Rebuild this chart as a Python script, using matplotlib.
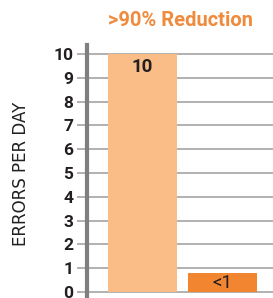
import matplotlib
matplotlib.use("Agg")
import matplotlib.pyplot as plt

categories = ["Before", "After"]
values = [10, 0.82]
bar_labels = ["10", "<1"]
yticks = list(range(0, 11))
title = ">90% Reduction"
ylabel = "ERRORS PER DAY"

plt.rcParams['font.family'] = ['Roboto', 'DejaVu Sans']

fig = plt.figure(figsize=(2.73, 2.98), dpi=100)
ax = fig.add_axes([87/273, 0, 186/273, 253/298])
x = [0, 1]
ax.bar(x, values, width=0.8625, color=["#FBBD87", "#F28530"], zorder=3)
ax.set_xlim(-0.694, 1.631)
ax.set_ylim(-0.25, 10.38)
ax.set_yticks(yticks)
ax.set_yticklabels([str(t) for t in yticks], fontsize=12.5, fontweight='bold', color='#231f20')
for lab in ax.get_yticklabels():
    lab.set_va('center_baseline')
ax.set_xticks([])
ax.grid(axis='y', color='#ABABAB', linewidth=1.3, zorder=1)
ax.tick_params(axis='y', length=7, width=1.3, color='#ABABAB', pad=3)
for s in ['top', 'right', 'bottom']:
    ax.spines[s].set_visible(False)
ax.spines['left'].set_color('#7F7F82')
ax.spines['left'].set_linewidth(3)
ax.spines['left'].set_zorder(4)

ax.text(x[0], values[0] - 0.15, bar_labels[0], ha='center', va='top', fontsize=13.5, fontweight='bold', color='#231f20', zorder=5)
ax.text(x[1], values[1] / 2 - 0.05, bar_labels[1], ha='center', va='center', fontsize=13.5, color='#231f20', zorder=5)

fig.text(180/273, 1 - 21/298, title, ha='center', va='center', fontsize=14.5, fontweight='bold', color='#F08A3C')
fig.text(21/273, 1 - 174/298, ylabel, ha='center', va='center', rotation=90, fontsize=12, color='#231f20',
         family=['DejaVu Sans'])

fig.savefig("out.png", dpi=100)
